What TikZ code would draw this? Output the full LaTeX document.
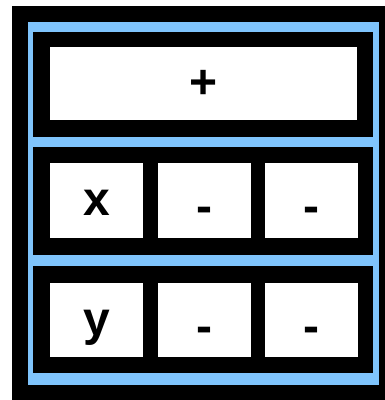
\documentclass[tikz,border=0pt]{standalone}
\usepackage{fontspec}
\setmainfont{Liberation Sans}
\definecolor{frameblue}{RGB}{127,196,252}
\newcommand{\lowbar}{\raisebox{-7pt}{-}}

\begin{document}
\begin{tikzpicture}[x=1pt,y=-1pt,
  cell/.style={fill=white,inner sep=0pt,minimum width=93pt,minimum height=75pt,
    text height=40pt,text depth=10pt,font=\fontsize{48}{48}\selectfont\bfseries}]
  \useasboundingbox (0,0) rectangle (385,400);
  % outer frame with blue border
  \fill[black] (12,6) rectangle (385,400);
  \fill[frameblue] (28,22) rectangle (379,385);
  % the three rows
  \foreach \rtop/\rbot in {32/137,147/255,266/373}{
    \fill[black] (33,\rtop) rectangle (373,\rbot);
  }
  % top row: one wide cell
  \node[cell,minimum width=307pt,minimum height=73pt] (plus) at (203.5,83.5) {+};
  % middle row
  \node[cell] (x) at (96.5,200.5) {x};
  \node[cell] (xa) at (204.5,200.5) {\lowbar};
  \node[cell] (xb) at (311,200.5) {\lowbar};
  % bottom row
  \node[cell,minimum height=74pt] (y) at (96.5,320) {y};
  \node[cell,minimum height=74pt] (ya) at (204.5,320) {\lowbar};
  \node[cell,minimum height=74pt] (yb) at (311,320) {\lowbar};
\end{tikzpicture}
\end{document}
